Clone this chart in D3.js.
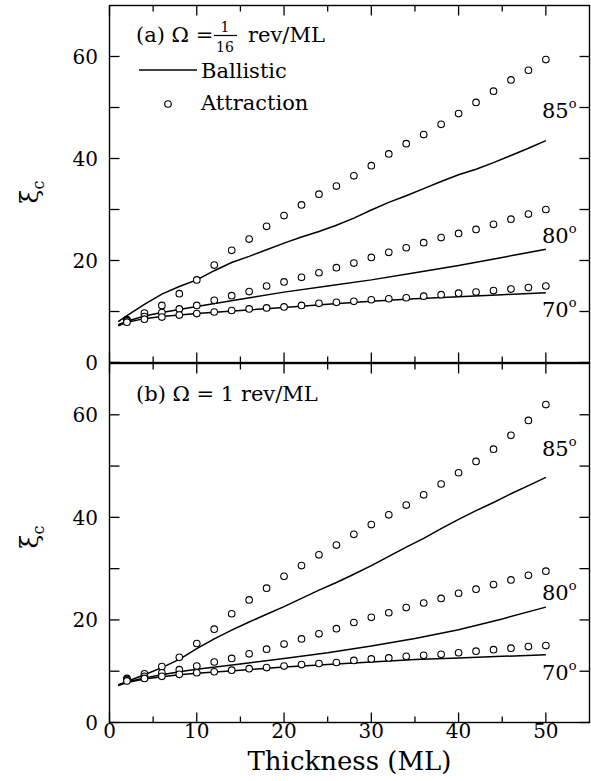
<!DOCTYPE html>
<html><head><meta charset="utf-8">
<script src="https://cdn.jsdelivr.net/npm/d3@7"></script>
<style>
body{margin:0;background:#fff}
svg{display:block}
text{font-family:"DejaVu Serif","Liberation Serif",serif;fill:#000}
</style>
</head><body>
<svg id="chart" width="591" height="781"></svg>
<script>
// ---- data ----
const thickness = [2,4,6,8,10,12,14,16,18,20,22,24,26,28,30,32,34,36,38,40,42,44,46,48,50];
const fineX   = [1,2,4,6,8,10,12,14,16,18,20,22,24,26,28,30,32,34,36,38,40,42,44,46,48,50];
const coarseX = [1,2,4,6,8,10,15,20,25,30,35,40,45,50];

// panel (a) Omega = 1/16 rev/ML
const a_attr85 = [8.4,9.7,11.2,13.5,16.2,19.1,22.0,24.2,26.7,28.8,30.9,33.0,34.6,36.6,38.6,40.9,42.9,44.7,46.7,48.8,51.0,53.2,55.4,57.3,59.4];
const a_attr80 = [8.2,9.0,9.8,10.5,11.2,12.2,13.1,13.9,15.0,15.8,16.7,17.6,18.6,19.5,20.6,21.6,22.5,23.5,24.5,25.3,26.1,27.1,28.1,29.1,30.0];
const a_attr70 = [7.9,8.5,8.9,9.3,9.6,9.9,10.2,10.5,10.7,10.9,11.2,11.6,11.8,12.0,12.3,12.5,12.7,13.0,13.3,13.6,13.8,14.1,14.4,14.7,15.0];
const a_ball85 = [8.0,9.2,11.4,13.4,14.9,16.2,18.0,19.6,20.8,22.1,23.4,24.6,25.7,26.9,28.3,29.9,31.4,32.7,34.1,35.5,36.8,37.9,39.2,40.6,42.0,43.5];
const a_ball80 = [7.4,8.1,9.1,9.8,10.4,11.0,12.4,13.8,15.0,16.2,17.6,19.0,20.6,22.2];
const a_ball70 = [7.2,7.9,8.6,9.0,9.3,9.6,10.2,10.8,11.4,12.0,12.5,12.9,13.3,13.7];

// panel (b) Omega = 1 rev/ML
const b_attr85 = [8.6,9.5,10.9,12.7,15.4,18.2,21.2,23.9,26.2,28.5,30.6,32.7,34.6,36.7,38.6,40.5,42.4,44.4,46.5,48.7,50.9,53.3,56.0,58.9,62.0];
const b_attr80 = [8.4,9.0,9.7,10.3,11.0,11.8,12.5,13.4,14.3,15.3,16.3,17.3,18.3,19.5,20.5,21.4,22.4,23.3,24.2,25.2,26.0,26.9,27.8,28.7,29.5];
const b_attr70 = [8.1,8.6,9.0,9.4,9.7,9.9,10.2,10.5,10.7,11.0,11.3,11.5,11.7,12.1,12.4,12.6,12.9,13.1,13.3,13.6,13.9,14.2,14.5,14.8,15.0];
const b_ball85 = [7.3,8.0,9.3,10.7,12.3,14.4,16.3,18.0,19.6,21.1,22.6,24.2,25.8,27.3,28.9,30.6,32.4,34.2,35.9,37.8,39.6,41.3,42.9,44.6,46.2,47.8];
const b_ball80 = [7.3,7.9,8.7,9.3,9.9,10.4,11.4,12.5,13.6,14.9,16.4,18.1,20.2,22.5];
const b_ball70 = [7.2,7.8,8.5,8.9,9.3,9.6,10.2,10.8,11.3,11.8,12.3,12.6,12.9,13.2];

const xMajor = [0,10,20,30,40,50];
const xMinor = [5,15,25,35,45];
const yTicks = [0,10,20,30,40,50,60];
const yLabels = [0,20,40,60];
const angleLabels = ["85","80","70"];

// ---- layout ----
const svg = d3.select("#chart");
const x = d3.scaleLinear().domain([0,55]).range([109.5,589.5]);
const panels = [
  {y: d3.scaleLinear().domain([0,70]).range([362.5,5.5]),
   attr:[a_attr85,a_attr80,a_attr70], ball:[[fineX,a_ball85],[coarseX,a_ball80],[coarseX,a_ball70]],
   angleY:[118,243,317], labelY:192, bottom:false},
  {y: d3.scaleLinear().domain([0,70]).range([722.5,363.5]),
   attr:[b_attr85,b_attr80,b_attr70], ball:[[fineX,b_ball85],[coarseX,b_ball80],[coarseX,b_ball70]],
   angleY:[456,600,680], labelY:537, bottom:true}
];

panels.forEach((p,pi)=>{
  const g = svg.append("g");
  const y = p.y;
  const [y0,y1] = y.range();
  // frame
  g.append("rect").attr("x",x(0)).attr("y",y1).attr("width",x(55)-x(0)).attr("height",y0-y1)
   .attr("fill","none").attr("stroke","#000").attr("stroke-width",1.4);
  // x ticks bottom & top
  xMajor.concat(xMinor).forEach(v=>{
    const L = xMajor.includes(v)?10:6;
    g.append("line").attr("x1",x(v)).attr("x2",x(v)).attr("y1",y0).attr("y2",y0-L).attr("stroke","#000").attr("stroke-width",1.3);
    g.append("line").attr("x1",x(v)).attr("x2",x(v)).attr("y1",y1).attr("y2",y1+L).attr("stroke","#000").attr("stroke-width",1.3);
  });
  // y ticks left & right
  yTicks.forEach(v=>{
    g.append("line").attr("x1",x(0)).attr("x2",x(0)+10).attr("y1",y(v)).attr("y2",y(v)).attr("stroke","#000").attr("stroke-width",1.3);
    g.append("line").attr("x1",x(55)).attr("x2",x(55)-10).attr("y1",y(v)).attr("y2",y(v)).attr("stroke","#000").attr("stroke-width",1.3);
  });
  yLabels.forEach(v=>{
    g.append("text").attr("x",98).attr("y",y(v)).attr("dy","0.36em").attr("text-anchor","end")
     .attr("font-size",20).text(v);
  });
  // y axis label
  const yl = g.append("text").attr("transform",`translate(38,${p.labelY}) rotate(-90)`)
    .attr("text-anchor","middle").attr("font-size",25);
  yl.append("tspan").text("ξ");
  yl.append("tspan").attr("font-size",16).attr("dy",6).text("c");
  // ballistic lines
  const line = d3.line().x(d=>x(d[0])).y(d=>y(d[1]));
  p.ball.forEach(([xs,vals])=>{
    g.append("path").datum(xs.map((xv,i)=>[xv,vals[i]])).attr("d",line)
     .attr("fill","none").attr("stroke","#000").attr("stroke-width",1.5);
  });
  // attraction points
  p.attr.forEach(vals=>{
    g.selectAll(null).data(thickness.map((xv,i)=>[xv,vals[i]])).enter().append("circle")
     .attr("cx",d=>x(d[0])).attr("cy",d=>y(d[1])).attr("r",3.3)
     .attr("fill","#fff").attr("stroke","#000").attr("stroke-width",1.1);
  });
  // angle labels
  angleLabels.forEach((a,i)=>{
    const t = g.append("text").attr("x",542).attr("y",p.angleY[i]).attr("font-size",21);
    t.append("tspan").text(a);
    t.append("tspan").attr("font-size",13).attr("dy",-10).text("o");
  });
  if(p.bottom){
    xMajor.forEach(v=>{
      g.append("text").attr("x",x(v)).attr("y",738).attr("text-anchor","middle").attr("font-size",20).text(v);
    });
    g.append("text").attr("x",(x(0)+x(55))/2).attr("y",770).attr("text-anchor","middle")
     .attr("font-size",26).text("Thickness (ML)");
  }
});

// legend panel (a)
svg.append("text").attr("x",136).attr("y",42).attr("font-size",21).text("(a) Ω =");
svg.append("text").attr("x",225).attr("y",32).attr("text-anchor","middle").attr("font-size",14).attr("fill","#333").text("1");
svg.append("line").attr("x1",214).attr("x2",237).attr("y1",35.5).attr("y2",35.5).attr("stroke","#000").attr("stroke-width",1.2);
svg.append("text").attr("x",225).attr("y",52).attr("text-anchor","middle").attr("font-size",14).attr("fill","#333").text("16");
svg.append("text").attr("x",248).attr("y",42).attr("font-size",21).text("rev/ML");
svg.append("line").attr("x1",139).attr("x2",197).attr("y1",70).attr("y2",70).attr("stroke","#000").attr("stroke-width",1.5);
svg.append("text").attr("x",201).attr("y",78).attr("font-size",21).text("Ballistic");
svg.append("circle").attr("cx",168).attr("cy",104).attr("r",3.3).attr("fill","#fff").attr("stroke","#000").attr("stroke-width",1.1);
svg.append("text").attr("x",201).attr("y",110).attr("font-size",21).text("Attraction");
// legend panel (b)
svg.append("text").attr("x",136).attr("y",401).attr("font-size",21).text("(b) Ω = 1 rev/ML");
</script>
</body></html>
